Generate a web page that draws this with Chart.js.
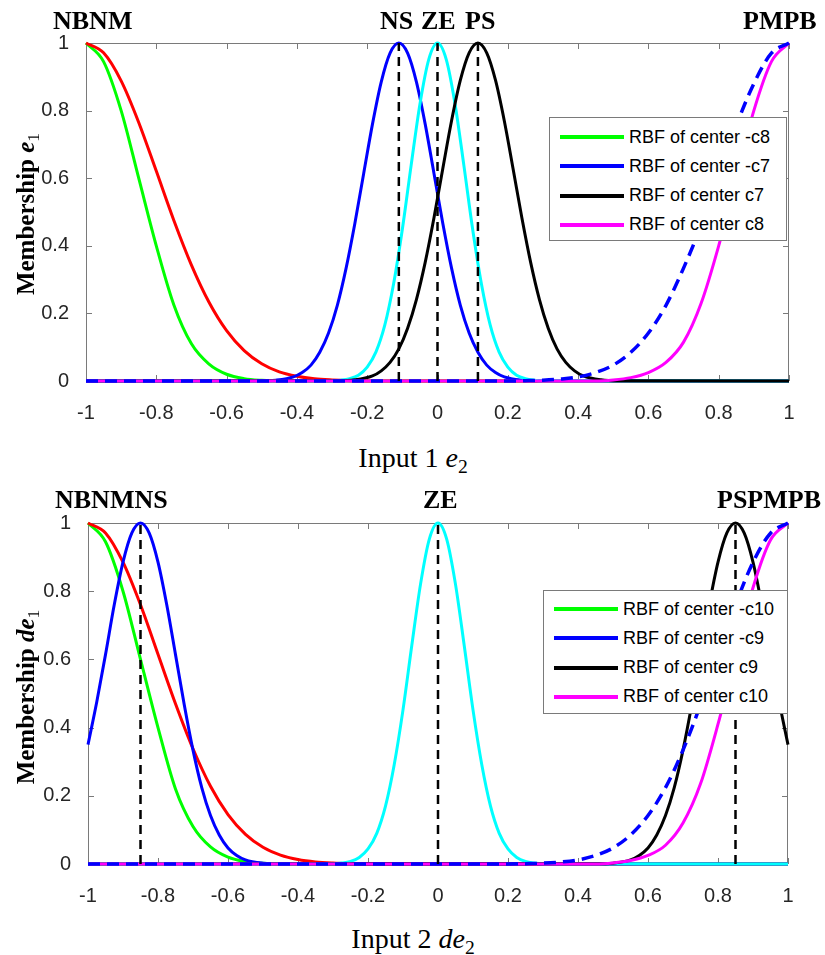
<!DOCTYPE html>
<html>
<head>
<meta charset="utf-8">
<title>RBF membership functions</title>
<script src="https://cdn.jsdelivr.net/npm/chart.js@4.4.1/dist/chart.umd.min.js"></script>
<style>
  body { margin: 0; background: #fff; }
  #page { position: relative; width: 825px; height: 955px; overflow: hidden; }
  canvas { position: absolute; left: 0; }
  .mf { position: absolute; font: bold 26px "Liberation Serif", "Times New Roman", serif; line-height: 26px; white-space: nowrap; color: #000; }
  .ytitle { position: absolute; font: bold 25px "Liberation Serif", "Times New Roman", serif; line-height: 25px; white-space: nowrap; color: #000;
            transform: translate(-50%, -50%) rotate(-90deg); }
  .xtitle { position: absolute; font: 28px "Liberation Serif", "Times New Roman", serif; line-height: 28px; white-space: nowrap; color: #000;
            transform: translateX(-50%); }
  .sub { font-size: 0.7em; font-weight: normal; font-style: normal; position: relative; top: 0.3em; }
  .legend { position: absolute; background: #fff; border: 1px solid #7a7a7a; box-sizing: border-box;
            font: 18px "Liberation Sans", Arial, sans-serif; color: #000; }
  .legend .row { position: absolute; left: 0; height: 29px; display: flex; align-items: center; white-space: nowrap; }
  .legend .swatch { width: 64px; height: 4px; margin-left: 10px; margin-right: 5px; }
</style>
</head>
<body>
<div id="page">
  <canvas id="chartTop" width="825" height="430" style="top:0"></canvas>
  <canvas id="chartBottom" width="825" height="430" style="top:480px"></canvas>

  <!-- fuzzy set names above each plot -->
  <div class="mf" style="left:53px; top:8px">NBNM</div>
  <div class="mf" style="left:380px; top:8px">NS</div>
  <div class="mf" style="left:421px; top:8px">ZE</div>
  <div class="mf" style="left:465px; top:8px">PS</div>
  <div class="mf" style="left:743px; top:8px">PMPB</div>

  <div class="mf" style="left:55px; top:487px">NBNMNS</div>
  <div class="mf" style="left:423px; top:487px">ZE</div>
  <div class="mf" style="left:717px; top:487px">PSPMPB</div>

  <!-- axis titles -->
  <div class="ytitle" style="left:27px; top:214px">Membership <i>e</i><span class="sub">1</span></div>
  <div class="ytitle" style="left:27px; top:697px">Membership <i>de</i><span class="sub">1</span></div>
  <div class="xtitle" style="left:413px; top:444px">Input 1 <i>e</i><span class="sub">2</span></div>
  <div class="xtitle" style="left:413px; top:925px">Input 2 <i>de</i><span class="sub">2</span></div>

  <div class="legend" id="legendTop" style="left:549px; top:117px; width:238px; height:124px"></div>
  <div class="legend" id="legendBottom" style="left:543px; top:590px; width:245px; height:124px"></div>
</div>

<script>
// ---- axis ticks ----
const xTicks = [-1, -0.8, -0.6, -0.4, -0.2, 0, 0.2, 0.4, 0.6, 0.8, 1];
const xTickLabels = ['-1', '-0.8', '-0.6', '-0.4', '-0.2', '0', '0.2', '0.4', '0.6', '0.8', '1'];
const yTicks = [0, 0.2, 0.4, 0.6, 0.8, 1];
const yTickLabels = ['0', '0.2', '0.4', '0.6', '0.8', '1'];

// ---- Input 1 (top plot) ----
const topGreenX = [-1, -0.95, -0.9, -0.85, -0.8, -0.75, -0.7, -0.65, -0.6, -0.55, -0.5, -0.45, 1];
const topGreenY = [1, 0.945, 0.8, 0.6, 0.4, 0.225, 0.11, 0.05, 0.02, 0.007, 0.002, 0, 0];

const topRedX = [-1, -0.95, -0.9, -0.85, -0.8, -0.75, -0.7, -0.65, -0.6, -0.55, -0.5, -0.45, -0.4, -0.35, -0.3, -0.25, -0.2, 1];
const topRedY = [1, 0.971, 0.888, 0.765, 0.621, 0.475, 0.343, 0.233, 0.149, 0.09, 0.051, 0.027, 0.014, 0.0065, 0.003, 0.001, 0, 0];

const topBlueX = [-1, -0.51, -0.46, -0.41, -0.385, -0.36, -0.335, -0.31, -0.285, -0.26, -0.235, -0.21, -0.185, -0.16, -0.135,
                  -0.11, -0.085, -0.06, -0.035, -0.01, 0.015, 0.04, 0.065, 0.09, 0.115, 0.14, 0.165, 0.19, 0.24, 0.29, 1];
const topBlueY = [0, 0.0004, 0.0025, 0.012, 0.025, 0.047, 0.085, 0.142, 0.224, 0.334, 0.467, 0.614, 0.76, 0.885, 0.97,
                  1, 0.97, 0.885, 0.76, 0.614, 0.467, 0.334, 0.224, 0.142, 0.085, 0.047, 0.025, 0.012, 0.0025, 0.0004, 0];

const topCyanX = [-1, -0.3, -0.275, -0.25, -0.225, -0.2, -0.175, -0.15, -0.125, -0.1, -0.075, -0.05, -0.025,
                  0, 0.025, 0.05, 0.075, 0.1, 0.125, 0.15, 0.175, 0.2, 0.225, 0.25, 0.275, 0.3, 1];
const topCyanY = [0, 0.0007, 0.0024, 0.0067, 0.017, 0.041, 0.086, 0.165, 0.287, 0.449, 0.638, 0.819, 0.951,
                  1, 0.951, 0.819, 0.638, 0.449, 0.287, 0.165, 0.086, 0.041, 0.017, 0.0067, 0.0024, 0.0007, 0];

const topBlackX = [-1, -0.285, -0.235, -0.185, -0.16, -0.135, -0.11, -0.085, -0.06, -0.035, -0.01, 0.015, 0.04, 0.065, 0.09,
                   0.115, 0.14, 0.165, 0.19, 0.215, 0.24, 0.265, 0.29, 0.315, 0.34, 0.365, 0.39, 0.415, 0.465, 0.515, 1];
const topBlackY = [0, 0.0006, 0.0034, 0.015, 0.03, 0.055, 0.095, 0.156, 0.241, 0.351, 0.483, 0.628, 0.77, 0.89, 0.971,
                   1, 0.971, 0.89, 0.77, 0.628, 0.483, 0.351, 0.241, 0.156, 0.095, 0.055, 0.03, 0.015, 0.0034, 0.0006, 0];

const topMagentaX = [-1, 0.45, 0.5, 0.55, 0.6, 0.65, 0.7, 0.75, 0.8, 0.85, 0.9, 0.95, 1];
const topMagentaY = [0, 0, 0.003, 0.01, 0.025, 0.055, 0.115, 0.23, 0.4, 0.6, 0.8, 0.945, 1];

const topDashX = [-1, 0.2, 0.25, 0.3, 0.35, 0.4, 0.45, 0.5, 0.55, 0.6, 0.65, 0.7, 0.75, 0.8, 0.85, 0.9, 0.95, 1];
const topDashY = [0, 0, 0.001, 0.0025, 0.0058, 0.012, 0.025, 0.047, 0.085, 0.142, 0.224, 0.334, 0.46, 0.605, 0.755, 0.88, 0.97, 1];

const topCenters = [-0.11, 0, 0.115];

// ---- Input 2 (bottom plot) ----
const botGreenX = [-1, -0.95, -0.9, -0.85, -0.8, -0.75, -0.7, -0.65, -0.6, -0.55, -0.5, -0.45, 1];
const botGreenY = [1, 0.945, 0.8, 0.6, 0.4, 0.22, 0.11, 0.05, 0.02, 0.007, 0.002, 0, 0];

const botRedX = [-1, -0.95, -0.9, -0.85, -0.8, -0.75, -0.7, -0.65, -0.6, -0.55, -0.5, -0.45, -0.4, -0.35, -0.3, -0.25, -0.2, 1];
const botRedY = [1, 0.971, 0.885, 0.76, 0.615, 0.47, 0.338, 0.228, 0.145, 0.087, 0.049, 0.026, 0.013, 0.006, 0.0027, 0.001, 0, 0];

const botBlueX = [-1, -0.975, -0.95, -0.925, -0.9, -0.875, -0.85, -0.825, -0.8, -0.775, -0.75, -0.725, -0.7, -0.675,
                  -0.65, -0.625, -0.6, -0.575, -0.55, -0.5, -0.45, 1];
const botBlueY = [0.35, 0.475, 0.614, 0.76, 0.885, 0.97, 1, 0.97, 0.885, 0.76, 0.614, 0.467, 0.334, 0.224,
                  0.142, 0.085, 0.047, 0.025, 0.012, 0.0025, 0.0004, 0];

const botCyanX = [-1, -0.3, -0.275, -0.25, -0.225, -0.2, -0.175, -0.15, -0.125, -0.1, -0.075, -0.05, -0.025,
                  0, 0.025, 0.05, 0.075, 0.1, 0.125, 0.15, 0.175, 0.2, 0.225, 0.25, 0.275, 0.3, 1];
const botCyanY = [0, 0.0008, 0.0028, 0.0075, 0.019, 0.044, 0.09, 0.17, 0.292, 0.452, 0.64, 0.82, 0.952,
                  1, 0.952, 0.82, 0.64, 0.452, 0.292, 0.17, 0.09, 0.044, 0.019, 0.0075, 0.0028, 0.0008, 0];

const botBlackX = [-1, 0.45, 0.5, 0.55, 0.575, 0.6, 0.625, 0.65, 0.675, 0.7, 0.725, 0.75, 0.775, 0.8, 0.825,
                   0.85, 0.875, 0.9, 0.925, 0.95, 0.975, 1];
const botBlackY = [0, 0.0004, 0.0025, 0.012, 0.025, 0.047, 0.085, 0.142, 0.224, 0.334, 0.467, 0.614, 0.76, 0.885, 0.97,
                   1, 0.97, 0.885, 0.76, 0.614, 0.475, 0.35];

const botMagentaX = [-1, 0.45, 0.5, 0.55, 0.6, 0.65, 0.7, 0.75, 0.8, 0.85, 0.9, 0.95, 1];
const botMagentaY = [0, 0, 0.003, 0.01, 0.025, 0.055, 0.12, 0.235, 0.41, 0.61, 0.81, 0.95, 1];

const botDashX = [-1, 0.2, 0.25, 0.3, 0.35, 0.4, 0.45, 0.5, 0.55, 0.6, 0.65, 0.7, 0.75, 0.8, 0.85, 0.9, 0.95, 1];
const botDashY = [0, 0, 0.001, 0.0025, 0.0058, 0.012, 0.025, 0.047, 0.085, 0.142, 0.224, 0.334, 0.467, 0.614, 0.76, 0.885, 0.97, 1];

const botCenters = [-0.85, 0, 0.85];

// ---- legends ----
const topLegendLabels = ['RBF of center -c8', 'RBF of center -c7', 'RBF of center c7', 'RBF of center c8'];
const botLegendLabels = ['RBF of center -c10', 'RBF of center -c9', 'RBF of center c9', 'RBF of center c10'];
const legendColors = ['#00ff00', '#0000ff', '#000000', '#ff00ff'];

function buildLegend(id, labels, firstRow) {
    const box = document.getElementById(id);
    labels.forEach((label, i) => {
        const row = document.createElement('div');
        row.className = 'row';
        row.style.top = (firstRow - 14.5 + i * 29.3) + 'px';
        row.innerHTML = `<div class="swatch" style="background:${legendColors[i]}"></div><span>${label}</span>`;
        box.appendChild(row);
    });
}

// box around the plot with MATLAB style inward ticks, drawn under the curves
const axesBox = {
    id: 'axesBox',
    beforeDatasetsDraw(chart) {
        const { ctx, chartArea: a, scales: { x, y } } = chart;
        const tick = 6;
        ctx.save();
        ctx.strokeStyle = '#7a7a7a';
        ctx.lineWidth = 1;
        ctx.strokeRect(a.left + 0.5, a.top + 0.5, a.right - a.left - 1, a.bottom - a.top - 1);
        ctx.beginPath();
        x.ticks.forEach(t => {
            const px = Math.round(x.getPixelForValue(t.value)) + 0.5;
            ctx.moveTo(px, a.bottom); ctx.lineTo(px, a.bottom - tick);
            ctx.moveTo(px, a.top); ctx.lineTo(px, a.top + tick);
        });
        y.ticks.forEach(t => {
            const py = Math.round(y.getPixelForValue(t.value)) + 0.5;
            ctx.moveTo(a.left, py); ctx.lineTo(a.left + tick, py);
            ctx.moveTo(a.right, py); ctx.lineTo(a.right - tick, py);
        });
        ctx.stroke();
        ctx.restore();
    }
};

const tickFont = { family: '"Liberation Sans", Arial, sans-serif', size: 20 };

function buildChart(canvasId, curves, centers, area) {
    const datasets = curves.map(c => ({
        data: c.x.map((v, i) => ({ x: v, y: c.y[i] })),
        borderColor: c.color,
        borderWidth: c.width || 3,
        borderDash: c.dash || [],
        showLine: true,
        pointRadius: 0,
        cubicInterpolationMode: 'monotone',
        fill: false,
        clip: false
    }));
    // dashed vertical lines at the centers of the middle sets
    centers.forEach(c => {
        datasets.push({
            data: [{ x: c, y: 0 }, { x: c, y: 1 }],
            borderColor: '#000',
            borderWidth: 2.5,
            borderDash: [9, 6],
            showLine: true,
            pointRadius: 0,
            clip: false
        });
    });
    // Chart.js draws the first dataset on top
    datasets.reverse();

    return new Chart(document.getElementById(canvasId), {
        type: 'scatter',
        data: { datasets: datasets },
        plugins: [axesBox],
        options: {
            responsive: false,
            animation: false,
            devicePixelRatio: 1,
            layout: { padding: { top: 43, right: area.right, left: 0, bottom: 0 } },
            plugins: { legend: { display: false }, tooltip: { enabled: false } },
            scales: {
                x: {
                    type: 'linear', min: -1, max: 1,
                    grid: { display: false }, border: { display: false },
                    afterBuildTicks: s => { s.ticks = xTicks.map(v => ({ value: v })); },
                    afterFit: s => { s.height = area.xAxisHeight; },
                    ticks: {
                        padding: 12, color: '#262626', font: tickFont,
                        autoSkip: false, maxRotation: 0,
                        callback: (v, i) => xTickLabels[i]
                    }
                },
                y: {
                    type: 'linear', min: 0, max: 1,
                    grid: { display: false }, border: { display: false },
                    afterBuildTicks: s => { s.ticks = yTicks.map(v => ({ value: v })); },
                    afterFit: s => { s.width = area.yAxisWidth; },
                    ticks: {
                        padding: 9, color: '#262626', font: tickFont,
                        callback: (v, i) => yTickLabels[i]
                    }
                }
            }
        }
    });
}

document.addEventListener('DOMContentLoaded', function() {
    buildChart('chartTop', [
        { x: topGreenX, y: topGreenY, color: '#00ff00' },
        { x: topRedX, y: topRedY, color: '#ff0000' },
        { x: topBlueX, y: topBlueY, color: '#0000ff' },
        { x: topCyanX, y: topCyanY, color: '#00ffff' },
        { x: topBlackX, y: topBlackY, color: '#000000' },
        { x: topMagentaX, y: topMagentaY, color: '#ff00ff' },
        { x: topDashX, y: topDashY, color: '#0000ff', width: 3.5, dash: [12, 7] }
    ], topCenters, { yAxisWidth: 86, right: 36, xAxisHeight: 49 });

    buildChart('chartBottom', [
        { x: botGreenX, y: botGreenY, color: '#00ff00' },
        { x: botRedX, y: botRedY, color: '#ff0000' },
        { x: botBlueX, y: botBlueY, color: '#0000ff' },
        { x: botCyanX, y: botCyanY, color: '#00ffff' },
        { x: botBlackX, y: botBlackY, color: '#000000' },
        { x: botMagentaX, y: botMagentaY, color: '#ff00ff' },
        { x: botDashX, y: botDashY, color: '#0000ff', width: 3.5, dash: [12, 7] }
    ], botCenters, { yAxisWidth: 88, right: 37, xAxisHeight: 46 });

    buildLegend('legendTop', topLegendLabels, 19);
    buildLegend('legendBottom', botLegendLabels, 18);
});
</script>
</body>
</html>
